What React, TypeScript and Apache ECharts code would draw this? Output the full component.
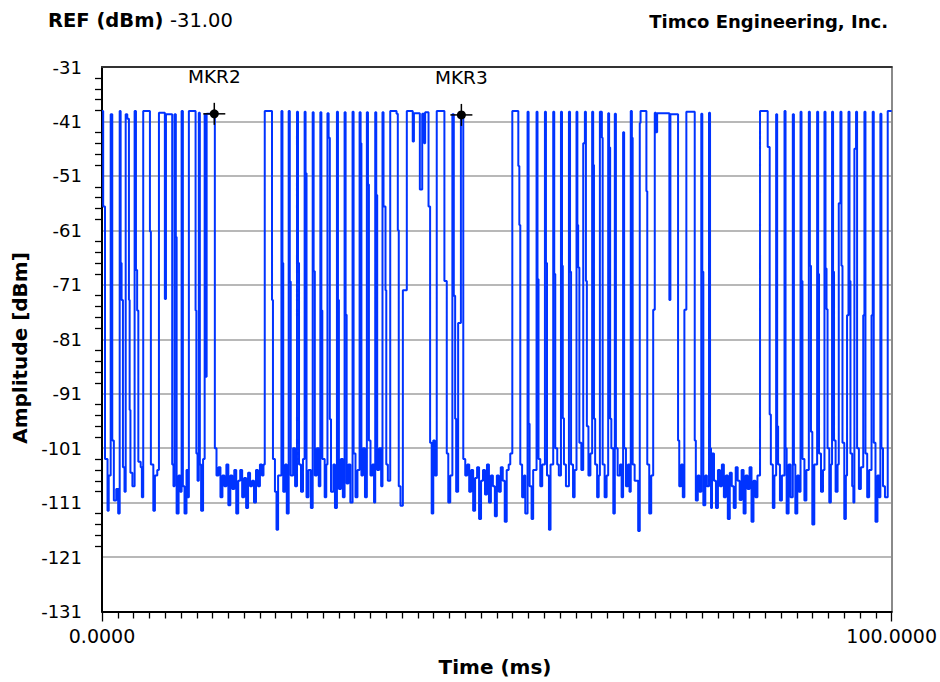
import React, { useEffect, useRef } from "react";
import * as echarts from "echarts";

// ---- axis definition ----
const REF_DBM = -31;
const BOTTOM_DBM = -131;
const Y_STEP_DB = 10;
const TIME_SPAN_MS = 100;
const xTickLabels = ["0.0000", "100.0000"];

// ---- trace: step breakpoints [time ms, level dBm]; the level holds until the next point ----
const burst1: [number, number][] = [
  [0.0, -39.1], [0.15, -56.6], [0.38, -103], [0.7, -112.5], [0.85, -106],
  [1.1, -39.7], [1.3, -99.6], [1.5, -110.6], [1.8, -108.5], [2.05, -113],
  [2.24, -39.1], [2.36, -67], [2.48, -73.8], [2.65, -104.5], [2.85, -109],
  [3.0, -39.7], [3.2, -40.5], [3.41, -73.8], [3.5, -94], [3.6, -105.5], [3.85, -108],
  [4.13, -39.1], [4.3, -68.3], [4.45, -75.7], [4.6, -103.5], [4.9, -104.5], [5.05, -110],
  [5.22, -39.1], [6.07, -61.2], [6.19, -104], [6.5, -112.5], [6.7, -106], [7.0, -105],
  [7.21, -39.4], [7.96, -73.6], [8.1, -39.7], [8.89, -104], [9.05, -108],
  [9.19, -39.7], [9.35, -62.2], [9.45, -113], [9.7, -106], [9.9, -109],
  [10.08, -39.1], [10.24, -108], [10.45, -113], [10.7, -105], [10.85, -110],
  [11.0, -39.1], [11.85, -75.7], [11.95, -102], [12.1, -107],
  [12.26, -39.4], [12.39, -104], [12.55, -112.5], [12.8, -103],
  [13.0, -39.7], [13.11, -87.9], [13.25, -39.6],
];

const noise1: [number, number][] = [
  [14.29, -101], [14.5, -106], [14.75, -104.5], [15.0, -110], [15.25, -106], [15.5, -108],
  [15.75, -104], [16.0, -111.5], [16.25, -106], [16.5, -108.5], [16.75, -105], [17.0, -113],
  [17.25, -107], [17.5, -105], [17.75, -110], [18.0, -106.5], [18.25, -112], [18.5, -105.5],
  [18.75, -108], [19.0, -107], [19.25, -111], [19.5, -105], [19.75, -108], [20.0, -104],
  [20.25, -106], [20.45, -104],
];

const burst2: [number, number][] = [
  [20.61, -39.1], [21.53, -73.8], [21.65, -103], [21.9, -109], [22.1, -116], [22.3, -106],
  [22.72, -39.1], [22.85, -67], [22.95, -109], [23.2, -104], [23.4, -113],
  [23.64, -39.1], [23.78, -70.4], [23.9, -106], [24.2, -101], [24.45, -108],
  [24.69, -39.2], [24.82, -67], [24.95, -104], [25.2, -109], [25.45, -103],
  [25.66, -39.2], [25.78, -50.5], [25.9, -110], [26.15, -105], [26.45, -112],
  [26.68, -39.3], [26.8, -68.5], [26.95, -106], [27.2, -101], [27.45, -108],
  [27.65, -39.3], [27.78, -75.7], [27.9, -103], [28.2, -110], [28.4, -104],
  [28.55, -39.5], [28.7, -44], [28.85, -95.7], [29.0, -109], [29.3, -104], [29.5, -112],
  [29.75, -39.2], [29.88, -73.8], [30.0, -108.5], [30.25, -103], [30.5, -110],
  [30.72, -39.3], [30.85, -76.5], [30.98, -107.5], [31.2, -104], [31.45, -111],
  [31.73, -39.2], [31.86, -102], [32.1, -110], [32.35, -105],
  [32.62, -39.3], [32.75, -45], [32.85, -106], [33.05, -101], [33.3, -110],
  [33.54, -39.3], [33.68, -52.6], [33.8, -99.6], [34.0, -106], [34.25, -104], [34.45, -111],
  [34.6, -39.3], [34.73, -54.5], [34.85, -105], [35.1, -101], [35.35, -108],
  [35.52, -39.3], [35.65, -56.6], [35.9, -72], [36.0, -104], [36.2, -107],
  [36.5, -39.1], [37.3, -39.6], [37.46, -61], [37.58, -108], [37.8, -111.6], [38.1, -72],
  [38.6, -39.1], [39.35, -44.7], [39.5, -39.5], [40.25, -53.5], [40.55, -39.6], [40.8, -45],
  [40.92, -39.3], [41.35, -56.6], [41.55, -100], [41.75, -113], [41.95, -99.6], [42.15, -106],
  [42.39, -39.1], [43.36, -70.3], [43.66, -102], [43.85, -111], [44.1, -106],
  [44.37, -39.7], [44.55, -73], [44.72, -95.6], [44.85, -109], [45.1, -78],
  [45.45, -39.8],
];

const noise2: [number, number][] = [
  [45.75, -103], [46.0, -106], [46.25, -104], [46.5, -109], [46.75, -105], [47.0, -112.5],
  [47.25, -106.5], [47.5, -104.5], [47.75, -114], [48.0, -107], [48.25, -105], [48.5, -109.5],
  [48.75, -104], [49.0, -111], [49.25, -106], [49.5, -108], [49.75, -113.5], [50.0, -106],
  [50.25, -109], [50.5, -104.5], [50.75, -107], [51.0, -114.5], [51.25, -105], [51.5, -104],
  [51.7, -102],
];

const burst3: [number, number][] = [
  [51.96, -39.1], [52.72, -49.2], [52.85, -60], [52.97, -104], [53.2, -110], [53.45, -106], [53.6, -113],
  [53.89, -39.2], [54.02, -96.5], [54.15, -108], [54.4, -114], [54.6, -105],
  [55.03, -39.2], [55.15, -70], [55.28, -103], [55.5, -108], [55.75, -104],
  [56.09, -39.2], [56.22, -67], [56.35, -106], [56.6, -116], [56.8, -104],
  [57.14, -39.2], [57.27, -69], [57.4, -101], [57.65, -104], [57.85, -106],
  [58.12, -39.2], [58.25, -67.5], [58.35, -95.5], [58.5, -104], [58.75, -108],
  [59.13, -39.2], [59.27, -68.6], [59.4, -104], [59.65, -110], [59.85, -105],
  [60.09, -39.2], [60.2, -60], [60.3, -67.8], [60.45, -100], [60.7, -105], [60.94, -45],
  [61.15, -39.2], [61.28, -70.3], [61.4, -97], [61.6, -106], [61.85, -102],
  [62.07, -39.2], [62.2, -49], [62.3, -95.6], [62.45, -104], [62.7, -110], [62.9, -106],
  [63.05, -39.2], [63.3, -44], [63.4, -104], [63.65, -110], [63.9, -106],
  [64.1, -39.5], [64.22, -45.8], [64.35, -95.6], [64.5, -101], [64.75, -113],
  [64.94, -39.6], [65.08, -101], [65.3, -106], [65.6, -104], [65.8, -110],
  [65.99, -43], [66.12, -101], [66.35, -108], [66.6, -104], [66.8, -109],
  [66.96, -39.1], [67.1, -44], [67.2, -104], [67.45, -107], [67.9, -116.2],
  [68.1, -41.3], [68.2, -39.1], [68.94, -53.8], [69.05, -104], [69.3, -113], [69.55, -106], [69.8, -75.6],
  [70.0, -39.4], [70.15, -43], [70.3, -39.5], [71.85, -73.8], [71.98, -39.7], [72.95, -99.6],
  [73.1, -108], [73.35, -104], [73.55, -110], [73.75, -75.6],
  [74.0, -39.2], [75.06, -99.6], [75.2, -110.6], [75.45, -106], [75.65, -109],
  [75.89, -39.6], [76.02, -68.6], [76.15, -111.5], [76.4, -106], [76.6, -108],
  [76.87, -39.4], [77.0, -101],
];

const noise3: [number, number][] = [
  [77.12, -112], [77.25, -102], [77.5, -107], [77.75, -112], [78.0, -105], [78.25, -108],
  [78.5, -104], [78.75, -110], [79.0, -106], [79.25, -114], [79.5, -105.5], [79.75, -108],
  [80.0, -112], [80.25, -104.5], [80.5, -107], [80.75, -110.5], [81.0, -105], [81.25, -113],
  [81.5, -106], [81.75, -108.5], [82.0, -104.5], [82.25, -114.5], [82.5, -107], [82.75, -110],
  [83.0, -106],
];

const burst4: [number, number][] = [
  [83.33, -39.1], [84.3, -45.7], [84.55, -94.8], [84.7, -104], [84.95, -112], [85.15, -106],
  [85.37, -39.7], [85.5, -97], [85.62, -104], [85.85, -110.6], [86.1, -106],
  [86.43, -39.1], [86.56, -101], [86.7, -113], [86.95, -104], [87.2, -110],
  [87.48, -39.7], [87.62, -104], [87.8, -113], [88.05, -106], [88.25, -109],
  [88.46, -39.2], [88.58, -70.3], [88.7, -103], [88.95, -110.6], [89.2, -105],
  [89.51, -39.2], [89.64, -67.5], [89.78, -98], [89.95, -115], [90.2, -104],
  [90.56, -39.2], [90.69, -69], [90.8, -102], [91.05, -109], [91.3, -105],
  [91.49, -39.2], [91.62, -68], [91.75, -75.5], [91.88, -101], [92.1, -111], [92.3, -104],
  [92.45, -39.2], [92.58, -68.6], [92.7, -99.6], [92.9, -109], [93.15, -104], [93.3, -56],
  [93.51, -39.2], [93.64, -67.5], [93.77, -100], [94.0, -114], [94.2, -106], [94.35, -76.6],
  [94.53, -39.2], [94.66, -70.3], [94.78, -102], [95.0, -108], [95.15, -111], [95.28, -46],
  [95.49, -39.2], [95.62, -101], [95.85, -108.5], [96.1, -104.5], [96.4, -76.6],
  [96.55, -39.2], [96.68, -102], [96.9, -110], [97.15, -105], [97.45, -76.6],
  [97.6, -39.2], [97.73, -100], [97.95, -114.5], [98.2, -106], [98.4, -110],
  [98.57, -39.6], [98.7, -101], [98.9, -108], [99.15, -110],
  [99.5, -39.1],
];

// ---- markers ----
const markerNames = ["MKR2", "MKR3"];
const markerTimes = [14.22, 45.51];
const markerLevels = [-39.6, -39.8];

const FONT = '"DejaVu Sans", Verdana, sans-serif';

export default function App() {
  const ref = useRef<HTMLDivElement>(null);

  useEffect(() => {
    if (!ref.current) return;
    const chart = echarts.init(ref.current, undefined, { renderer: "svg" });

    const breaks = [...burst1, ...noise1, ...burst2, ...noise2, ...burst3, ...noise3, ...burst4];
    // the y axis runs 0..100 above the bottom reference (-131 dBm)
    const toAxis = (dbm: number) => dbm - BOTTOM_DBM;
    const points: number[][] = [];
    breaks.forEach(([t, v], i) => {
      if (i > 0) points.push([t, toAxis(breaks[i - 1][1])]);
      points.push([t, toAxis(v)]);
    });
    points.push([TIME_SPAN_MS, toAxis(breaks[breaks.length - 1][1])]);

    const markerData = markerTimes.map((t, i) => [t, toAxis(markerLevels[i])]);
    const span = REF_DBM - BOTTOM_DBM;

    const option: any = {
      animation: false,
      backgroundColor: "#ffffff",
      grid: { left: 102, right: 46, top: 67, bottom: 70.5, containLabel: false },
      xAxis: [
        {
          type: "value",
          min: 0,
          max: TIME_SPAN_MS,
          interval: TIME_SPAN_MS,
          position: "bottom",
          axisLine: { show: true, onZero: false, lineStyle: { color: "#000", width: 2 } },
          axisTick: { show: true, length: 10, lineStyle: { color: "#000", width: 1.3 } },
          minorTick: { show: true, splitNumber: 50, length: 7, lineStyle: { color: "#000", width: 1.3 } },
          axisLabel: {
            margin: 15,
            fontSize: 19,
            fontFamily: FONT,
            color: "#000",
            formatter: (v: number) => (v <= 0 ? xTickLabels[0] : xTickLabels[1]),
          },
          splitLine: { show: false },
        },
        {
          type: "value",
          min: 0,
          max: TIME_SPAN_MS,
          position: "top",
          axisLine: { show: true, onZero: false, lineStyle: { color: "#333", width: 2 } },
          axisTick: { show: false },
          axisLabel: { show: false },
          splitLine: { show: false },
        },
      ],
      yAxis: [
        {
          type: "value",
          min: 0,
          max: span,
          interval: Y_STEP_DB,
          axisLine: { show: true, onZero: false, lineStyle: { color: "#000", width: 2 } },
          axisTick: { show: false },
          minorTick: { show: true, splitNumber: 5, length: 7, lineStyle: { color: "#000", width: 1.3 } },
          axisLabel: {
            margin: 20,
            fontSize: 18,
            fontFamily: FONT,
            color: "#000",
            formatter: (v: number) => String(Math.round(v + BOTTOM_DBM)),
          },
          splitLine: { show: true, lineStyle: { color: "#a0a0a0", width: 1.5 } },
        },
        {
          type: "value",
          min: 0,
          max: span,
          position: "right",
          axisLine: { show: true, onZero: false, lineStyle: { color: "#8a8a8a", width: 2 } },
          axisTick: { show: false },
          axisLabel: { show: false },
          splitLine: { show: false },
        },
      ],
      graphic: [
        {
          type: "rect",
          z: 100,
          shape: { x: 88, y: 559, width: 13, height: 50 },
          style: { fill: "#ffffff" },
        },
        {
          type: "text",
          x: 48,
          y: 20,
          style: {
            text: "REF (dBm)",
            font: `bold 19.5px ${FONT}`,
            fill: "#000",
            align: "left",
            verticalAlign: "middle",
            textAlign: "left",
            textVerticalAlign: "middle",
          },
        },
        {
          type: "text",
          x: 170,
          y: 20,
          style: {
            text: REF_DBM.toFixed(2),
            font: `19.5px ${FONT}`,
            fill: "#000",
            align: "left",
            verticalAlign: "middle",
            textAlign: "left",
            textVerticalAlign: "middle",
          },
        },
        {
          type: "text",
          x: 888,
          y: 21,
          style: {
            text: "Timco Engineering, Inc.",
            font: `bold 18px ${FONT}`,
            fill: "#000",
            align: "right",
            verticalAlign: "middle",
            textAlign: "right",
            textVerticalAlign: "middle",
          },
        },
        {
          type: "text",
          x: 20,
          y: 348,
          rotation: Math.PI / 2,
          style: {
            text: "Amplitude [dBm]",
            font: `bold 20px ${FONT}`,
            fill: "#000",
            align: "center",
            verticalAlign: "middle",
            textAlign: "center",
            textVerticalAlign: "middle",
          },
        },
        {
          type: "text",
          x: 495,
          y: 667,
          style: {
            text: "Time (ms)",
            font: `bold 20px ${FONT}`,
            fill: "#000",
            align: "center",
            verticalAlign: "middle",
            textAlign: "center",
            textVerticalAlign: "middle",
          },
        },
      ],
      series: [
        {
          type: "line",
          xAxisIndex: 0,
          yAxisIndex: 0,
          data: points,
          showSymbol: false,
          symbol: "none",
          lineStyle: { color: "#0033ff", width: 2 },
          z: 3,
        },
        {
          type: "custom",
          xAxisIndex: 0,
          yAxisIndex: 0,
          clip: false,
          z: 10,
          data: markerData,
          renderItem: (params: any, api: any) => {
            const p = api.coord([api.value(0), api.value(1)]);
            const name = markerNames[params.dataIndex];
            return {
              type: "group",
              children: [
                {
                  type: "line",
                  shape: { x1: p[0] - 11, y1: p[1], x2: p[0] + 11, y2: p[1] },
                  style: { stroke: "#000", lineWidth: 1.5 },
                },
                {
                  type: "line",
                  shape: { x1: p[0], y1: p[1] - 11, x2: p[0], y2: p[1] + 11 },
                  style: { stroke: "#000", lineWidth: 1.5 },
                },
                {
                  type: "circle",
                  shape: { cx: p[0], cy: p[1], r: 4.5 },
                  style: { fill: "#000" },
                },
                {
                  type: "text",
                  x: p[0],
                  y: p[1] - 37,
                  style: {
                    text: name,
                    font: `18.5px ${FONT}`,
                    fill: "#000",
                    align: "center",
                    verticalAlign: "middle",
                    textAlign: "center",
                    textVerticalAlign: "middle",
                  },
                },
              ],
            };
          },
        },
      ],
    };

    chart.setOption(option);
    return () => chart.dispose();
  }, []);

  return (
    <div
      ref={ref}
      style={{ position: "fixed", left: 0, top: 0, width: 940, height: 682, background: "#fff" }}
    />
  );
}
